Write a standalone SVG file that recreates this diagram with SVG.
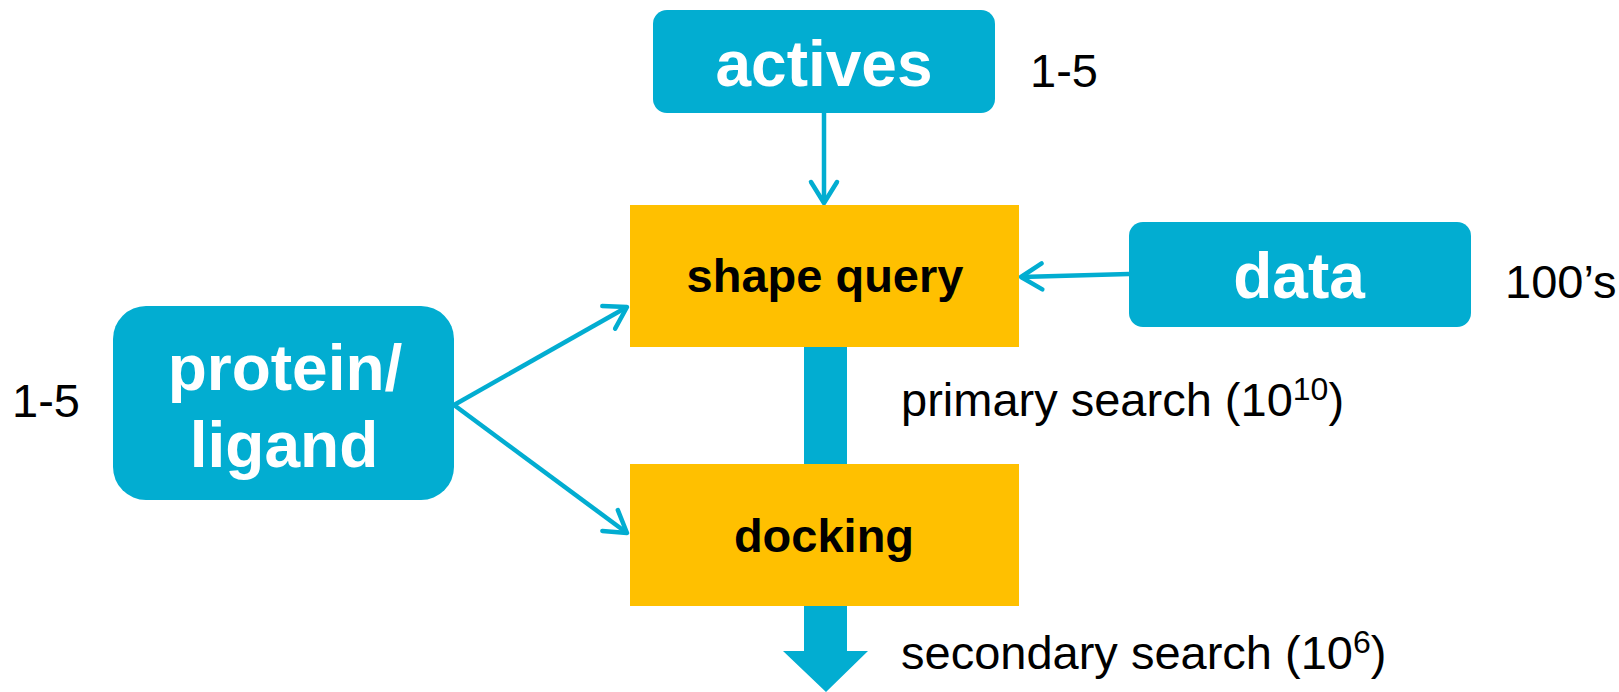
<svg xmlns="http://www.w3.org/2000/svg" width="1619" height="692" viewBox="0 0 1619 692">
<style>
.tb{fill:#02ADD1}
.yb{fill:#FFC000}
.wt{font-family:"Liberation Sans",Arial,sans-serif;font-weight:bold;font-size:64px;fill:#fff;text-anchor:middle}
.bt{font-family:"Liberation Sans",Arial,sans-serif;font-weight:bold;font-size:47px;fill:#000;text-anchor:middle}
.lt{font-family:"Liberation Sans",Arial,sans-serif;font-size:47px;fill:#000}
.cn{stroke:#02ADD1;stroke-width:4.5;fill:none;marker-end:url(#ah)}
</style>
<defs>
<marker id="ah" markerUnits="userSpaceOnUse" markerWidth="40" markerHeight="40" viewBox="-30 -20 40 40" refX="0" refY="0" orient="auto">
<path d="M-21,-13 L0,0 L-21,13" fill="none" stroke="#02ADD1" stroke-width="4.5" stroke-linecap="round" stroke-linejoin="round"/>
</marker>
</defs>
<rect width="1619" height="692" fill="#fff"/>
<g id="connectors">
<line class="cn" x1="824" y1="112" x2="824" y2="203"/>
<line class="cn" x1="1129" y1="274" x2="1021" y2="277"/>
<line class="cn" x1="454" y1="405" x2="627" y2="307"/>
<line class="cn" x1="454" y1="405" x2="627" y2="533"/>
<rect class="tb" x="804" y="346" width="43" height="119"/>
<path class="tb" d="M804,605 H847 V651 H868 L826,692 L783,651 H804 Z"/>
</g>
<g id="actives">
<rect class="tb" x="653" y="10" width="342" height="103" rx="14"/>
<text class="wt" x="824" y="86">actives</text>
</g>
<text class="lt" x="1030" y="87">1-5</text>
<g id="shape-query">
<rect class="yb" x="630" y="205" width="389" height="142"/>
<text class="bt" x="825" y="292">shape query</text>
</g>
<g id="data">
<rect class="tb" x="1129" y="222" width="342" height="105" rx="14"/>
<text class="wt" x="1299" y="298">data</text>
</g>
<text class="lt" x="1505" y="298">100’s</text>
<g id="protein-ligand">
<rect class="tb" x="113" y="306" width="341" height="194" rx="33"/>
<text class="wt" x="285" y="390">protein/</text>
<text class="wt" x="284" y="467">ligand</text>
</g>
<text class="lt" x="12" y="417">1-5</text>
<g id="docking">
<rect class="yb" x="630" y="464" width="389" height="142"/>
<text class="bt" x="824" y="552">docking</text>
</g>
<text class="lt" x="901" y="416">primary search (10<tspan font-size="32" dy="-16">10</tspan><tspan dy="16">)</tspan></text>
<text class="lt" x="901" y="669">secondary search (10<tspan font-size="32" dy="-16">6</tspan><tspan dy="16">)</tspan></text>
</svg>
